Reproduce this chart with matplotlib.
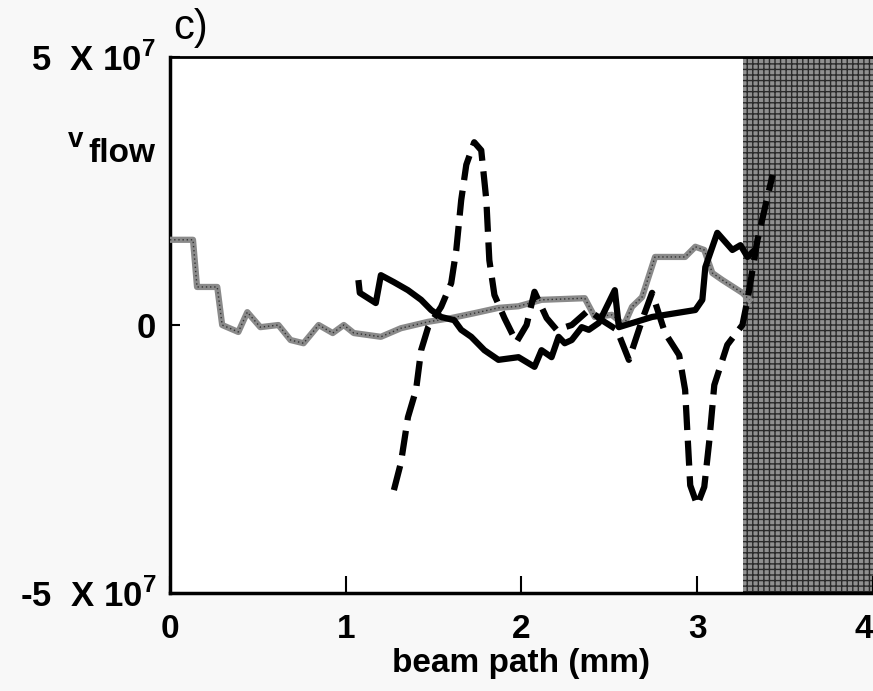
import numpy as np
import matplotlib.pyplot as plt

plt.rcParams['font.family'] = ['Liberation Sans', 'DejaVu Sans']
plt.rcParams['font.weight'] = 'bold'
plt.rcParams['mathtext.fontset'] = 'custom'
plt.rcParams['mathtext.rm'] = 'Liberation Sans:bold'
plt.rcParams['mathtext.bf'] = 'Liberation Sans:bold'

# velocity in units of 1e7, beam path in mm
gray_x = [0.0, 0.131, 0.154, 0.269, 0.297, 0.389, 0.44, 0.514, 0.617, 0.686, 0.76, 0.846, 0.926,
          0.989, 1.046, 1.2, 1.314, 1.469, 1.6, 1.731, 1.869, 1.983, 2.114, 2.36, 2.417, 2.514,
          2.583, 2.629, 2.686, 2.76, 2.931, 2.989, 3.04, 3.086, 3.143, 3.257, 3.297]
gray_y = [1.59, 1.59, 0.71, 0.71, 0.0, -0.13, 0.24, -0.04, 0.0, -0.28, -0.34, 0.0, -0.15,
          0.0, -0.15, -0.22, -0.06, 0.06, 0.13, 0.22, 0.32, 0.35, 0.47, 0.5, 0.15, 0.19,
          0.0, 0.34, 0.52, 1.27, 1.27, 1.46, 1.4, 0.97, 0.84, 0.6, 0.47]

solid_x = [1.074, 1.08, 1.171, 1.2, 1.274, 1.354, 1.429, 1.486, 1.543, 1.617, 1.657, 1.714,
           1.789, 1.869, 1.983, 2.074, 2.114, 2.171, 2.211, 2.246, 2.286, 2.343, 2.383, 2.44,
           2.531, 2.554, 2.743, 2.989, 3.029, 3.046, 3.114, 3.2, 3.246, 3.286, 3.314]
solid_y = [0.78, 0.6, 0.41, 0.93, 0.8, 0.65, 0.47, 0.28, 0.15, 0.09, -0.09, -0.22,
           -0.47, -0.65, -0.6, -0.78, -0.47, -0.6, -0.22, -0.34, -0.28, -0.04, -0.09, 0.04,
           0.65, -0.04, 0.15, 0.28, 0.47, 1.08, 1.72, 1.4, 1.49, 1.27, 1.36]

dash_x = [1.274, 1.314, 1.354, 1.4, 1.429, 1.469, 1.543, 1.6, 1.629, 1.657, 1.686, 1.731,
          1.771, 1.8, 1.817, 1.846, 1.903, 1.971, 2.029, 2.074, 2.143, 2.2, 2.286, 2.383,
          2.457, 2.543, 2.611, 2.686, 2.743, 2.817, 2.897, 2.931, 2.96, 3.0, 3.04, 3.069,
          3.097, 3.171, 3.257, 3.286, 3.343, 3.389, 3.429]
dash_y = [-3.08, -2.57, -1.72, -1.21, -0.47, -0.04, 0.34, 0.78, 1.4, 2.33, 2.99, 3.41,
          3.26, 2.33, 1.21, 0.56, 0.13, -0.32, 0.0, 0.62, 0.13, -0.09, 0.0, 0.28,
          0.09, -0.09, -0.65, 0.09, 0.6, -0.15, -0.56, -1.21, -2.99, -3.36, -3.02, -2.15,
          -1.12, -0.37, 0.0, 0.47, 1.59, 2.24, 2.8]

wall_start = 3.26

fig = plt.figure(figsize=(8.73, 6.91), dpi=100)
ax = fig.add_axes([0.1947, 0.1418, 0.8053, 0.7757])

# shaded wall region
ax.axvspan(wall_start, 4, facecolor='#909090', edgecolor='#2a2a2a', hatch='+++', linewidth=0, zorder=1)

ax.plot(gray_x, gray_y, color='#8a8a8a', lw=4.5, zorder=3)
ax.plot(gray_x, gray_y, color='#333333', lw=1.0, ls=(0, (1, 2)), zorder=3)  # stipple look
ax.plot(solid_x, solid_y, color='black', lw=4.5, zorder=4)
ax.plot(dash_x, dash_y, color='black', lw=4.5, dashes=(4, 1.7), zorder=5)

ax.set_xlim(0, 4)
ax.set_ylim(-5, 5)
ax.set_xticks([0, 1, 2, 3, 4])
ax.set_xticklabels(['0', '1', '2', '3', '4'], fontsize=24, fontweight='bold')
ax.get_xticklabels()[-1].set_horizontalalignment('right')
ax.set_yticks([-5, 0, 5])
ax.set_yticklabels([r'-5  X 10$^7$', '0', r'5  X 10$^7$'], fontsize=25, fontweight='bold')
ax.tick_params(axis='x', direction='in', length=12, width=1.5, pad=15)
ax.tick_params(axis='y', direction='in', length=7, width=1.5, pad=10)
ax.set_xlabel('beam path (mm)', fontsize=24, fontweight='bold', labelpad=2)

for s in ['left', 'bottom']:
    ax.spines[s].set_linewidth(2.5)
ax.spines['top'].set_linewidth(2)
ax.spines['right'].set_visible(False)

ax.text(-0.124, 0.832, 'v', transform=ax.transAxes, fontsize=20, fontweight='bold', ha='right', va='baseline')
ax.text(-0.021, 0.804, 'flow', transform=ax.transAxes, fontsize=24, fontweight='bold', ha='right', va='baseline')
ax.text(0.03, 1.055, 'c)', transform=ax.transAxes, fontsize=30, fontweight='normal', ha='center', va='center')

fig.savefig('out.png', dpi=100, facecolor='#f8f8f8')
